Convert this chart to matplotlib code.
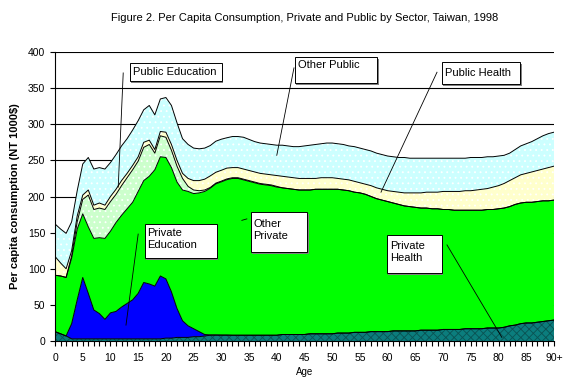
import numpy as np
import matplotlib
matplotlib.use("Agg")
import matplotlib.pyplot as plt
from matplotlib.patches import Rectangle

plt.rcParams['font.family'] = ['Liberation Sans', 'DejaVu Sans']
plt.rcParams['hatch.linewidth'] = 0.6

# ages 0..90 (90 = "90+")
ages = list(range(91))

# per capita consumption by sector, NT 1000$
private_health = [13, 10, 7, 3, 3, 3, 3, 3, 3, 3, 3, 3, 3, 3, 3, 3, 3, 3, 3, 3,
                  4, 4, 5, 5, 5, 6, 6, 7, 8, 8, 8, 8, 8, 8, 8, 8, 8, 8, 8, 8,
                  8, 9, 9, 9, 9, 9, 10, 10, 10, 10, 10, 11, 11, 11, 12, 12, 12, 13, 13, 13,
                  13, 14, 14, 14, 14, 14, 15, 15, 15, 15, 16, 16, 16, 16, 17, 17, 17, 17, 18, 18,
                  18, 19, 21, 22, 24, 25, 25, 26, 27, 28, 29]
private_education = [0, 0, 0, 21, 54, 85, 63, 40, 35, 27, 36, 38, 44, 49, 54, 63, 78, 76, 73, 87,
                     82, 64, 40, 23, 16, 11, 7, 2, 0.5, 0.5, 0.3, 0.3, 0, 0, 0, 0, 0, 0, 0, 0,
                     0, 0, 0, 0, 0, 0, 0, 0, 0, 0, 0, 0, 0, 0, 0, 0, 0, 0, 0, 0,
                     0, 0, 0, 0, 0, 0, 0, 0, 0, 0, 0, 0, 0, 0, 0, 0, 0, 0, 0, 0,
                     0, 0, 0, 0, 0, 0, 0, 0, 0, 0, 0]
other_private = [78, 80, 81, 91, 98, 88, 92, 99, 105, 112, 113, 123, 127, 131, 135, 141, 141, 149, 161, 165,
                 168, 172, 175, 181, 186, 187, 192, 198, 203, 209, 212, 215, 217, 217, 215, 213, 211, 209, 208, 207,
                 205, 203, 202, 201, 200, 200, 199, 200, 200, 200, 200, 199, 198, 197, 194, 193, 191, 187, 184, 182,
                 180, 177, 175, 173, 172, 171, 169, 169, 168, 168, 166, 166, 165, 165, 164, 164, 164, 164, 164, 164,
                 165, 165, 165, 167, 167, 167, 167, 167, 167, 166, 166]
public_education = [0, 0, 0, 3, 10, 20, 44, 40, 41, 40, 41, 39, 41, 43, 45, 42, 46, 44, 23, 29,
                    28, 24, 22, 16, 7, 5, 3, 2, 1, 1, 1, 1, 1, 1, 1, 1, 1, 1, 1, 1,
                    1, 0, 0, 0, 0, 0, 0, 0, 0, 0, 0, 0, 0, 0, 0, 0, 0, 0, 0, 0,
                    0, 0, 0, 0, 0, 0, 0, 0, 0, 0, 0, 0, 0, 0, 0, 0, 0, 0, 0, 0,
                    0, 0, 0, 0, 0, 0, 0, 0, 0, 0, 0]
public_health = [26, 18, 12, 7, 8, 6, 7, 6, 7, 6, 7, 7, 7, 6, 6, 6, 7, 6, 5, 6,
                 7, 8, 8, 7, 11, 13, 14, 15, 16, 15, 15, 15, 14, 14, 14, 14, 14, 14, 14, 14,
                 15, 16, 16, 16, 16, 16, 16, 15, 16, 16, 16, 15, 15, 15, 15, 14, 14, 15, 15, 15,
                 15, 16, 17, 18, 19, 20, 21, 22, 23, 23, 25, 25, 26, 26, 27, 27, 28, 29, 29, 31,
                 32, 34, 36, 37, 39, 40, 42, 43, 44, 46, 47]
other_public = [45, 47, 49, 40, 35, 43, 45, 50, 49, 50, 47, 48, 48, 48, 49, 50, 45, 48, 48, 45,
                48, 54, 52, 48, 47, 45, 44, 43, 42, 43, 43, 42, 43, 43, 44, 43, 42, 42, 42, 42,
                42, 43, 43, 43, 44, 45, 46, 47, 47, 48, 48, 48, 48, 47, 48, 48, 48, 48, 48, 48,
                48, 48, 48, 49, 48, 48, 48, 47, 47, 47, 46, 46, 46, 46, 45, 46, 45, 44, 44, 42,
                41, 39, 38, 39, 40, 41, 42, 44, 46, 47, 47]

series = [private_health, private_education, other_private,
          public_education, public_health, other_public]
colors = ['#0b7d7d', '#0000ff', '#00ff00', '#ccffcc', '#ffffcc', '#ccffff']
hatches = ['xxxx', None, None, '...', '...', '...']

fig = plt.figure(figsize=(5.69, 3.82), dpi=100)
ax = fig.add_axes([0.0967, 0.1073, 0.8769, 0.7566])

polys = ax.stackplot(ages, *series, colors=colors, linewidth=0, zorder=2)
for p, h in zip(polys, hatches):
    if h == '...':
        p.set_edgecolor('white')
        p.set_hatch(h)
        p.set_linewidth(0)
    elif h:
        p.set_edgecolor('#0a5252')
        p.set_hatch(h)
        p.set_linewidth(0)

tops = np.cumsum(np.array(series, dtype=float), axis=0)
for t in tops:
    ax.plot(ages, t, color='black', lw=0.7, zorder=3)
ax.plot([ages[-1], ages[-1]], [0, tops[-1][-1]], color='black', lw=0.7, zorder=3)

ax.set_xlim(0, 90)
ax.set_ylim(0, 400)
ax.set_yticks(range(0, 401, 50))
ax.set_xticks(range(0, 91, 5))
ax.set_xticks(range(0, 91, 1), minor=True)
ax.set_xticklabels([str(a) for a in range(0, 90, 5)] + ['90+'])
ax.tick_params(axis='both', which='both', direction='out', length=3.5,
               width=0.8, color='black', labelsize=7.5)
ax.tick_params(axis='x', pad=5)
ax.yaxis.grid(True, color='black', lw=0.8)
ax.set_axisbelow(True)
for s in ['top', 'right']:
    ax.spines[s].set_visible(False)
ax.spines['left'].set_linewidth(0.8)
ax.spines['bottom'].set_linewidth(0.8)
ax.spines['bottom'].set_zorder(4)

ax.set_xlabel('Age', fontsize=7, labelpad=3)
ax.set_ylabel('Per capita consumption (NT 1000$)', fontsize=8, fontweight='bold', labelpad=6)
fig.text(0.535, 0.953, 'Figure 2. Per Capita Consumption, Private and Public by Sector, Taiwan, 1998',
         ha='center', va='center', fontsize=8)

# annotation boxes: (x0, x1, y0, y1) in data units, label, leader line
notes = [
    ((13.5, 30.1, 360, 385), 'Public Education', (12.3, 371), (11.4, 213)),
    ((43.3, 58.1, 357, 393), 'Other Public', (43.1, 378), (40.0, 257)),
    ((69.8, 83.9, 356, 386), 'Public Health', (68.9, 372), (58.8, 206)),
    ((35.3, 45.5, 123, 178), 'Other\nPrivate', (33.7, 167), (34.6, 169)),
    ((16.2, 29.2, 115, 162), 'Private\nEducation', (15.0, 148), (12.8, 22)),
    ((59.9, 69.8, 94, 147), 'Private\nHealth', (70.7, 133), (80.6, 5)),
]
for (x0, x1, y0, y1), label, p0, p1 in notes:
    ax.add_patch(Rectangle((x0 + 0.25, y0 - 2.5), x1 - x0, y1 - y0,
                           facecolor='#808080', edgecolor='none', zorder=5))
    ax.add_patch(Rectangle((x0, y0), x1 - x0, y1 - y0,
                           facecolor='white', edgecolor='black', lw=0.7, zorder=6))
    top_pad = 3 if '\n' in label else 0
    ax.text(x0 + 0.5, y1 - 4 - top_pad if label == 'Other Public' else (y0 + y1) / 2 + top_pad,
            label, ha='left', va='top' if label == 'Other Public' else 'center',
            fontsize=8, linespacing=1.25, zorder=7)
    ax.plot([p0[0], p1[0]], [p0[1], p1[1]], color='black', lw=0.6, zorder=6)

fig.savefig('out.png', dpi=100)
